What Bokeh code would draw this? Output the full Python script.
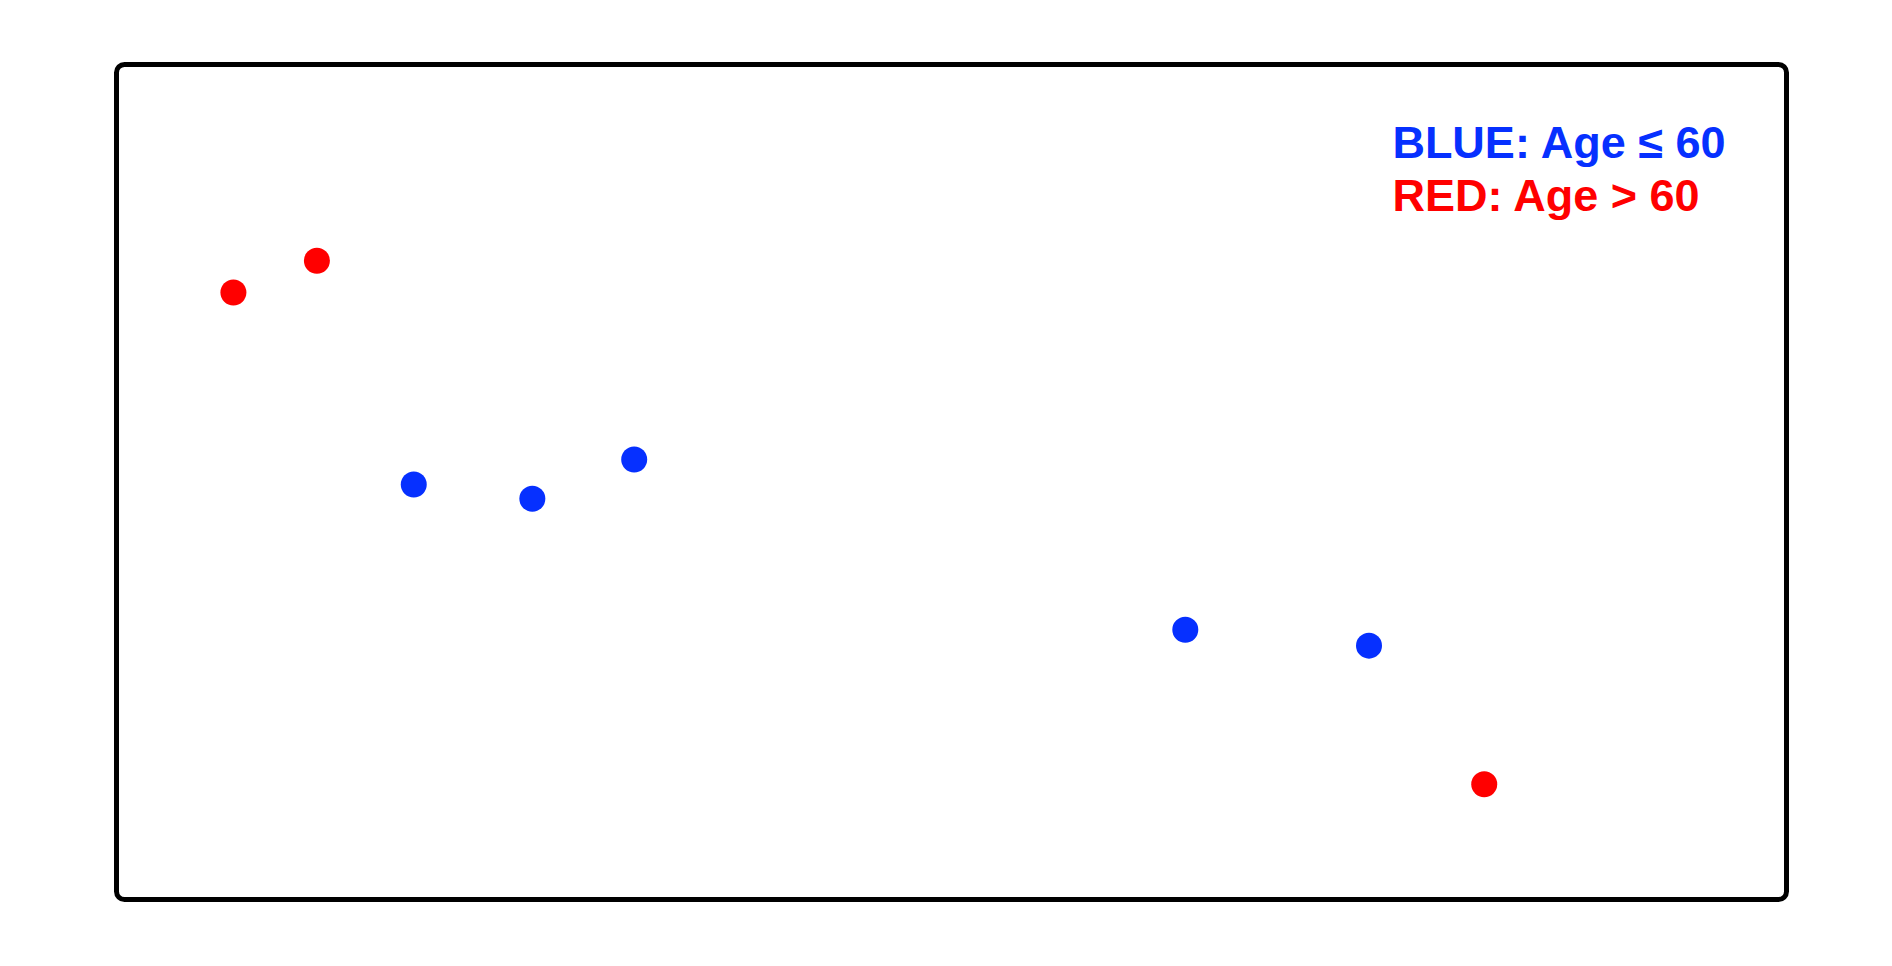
from bokeh.plotting import figure
from bokeh.models import ColumnDataSource, Range1d, Label, BoxAnnotation
from bokeh.embed import file_html
from bokeh.resources import INLINE

# Data (arbitrary units)
x_vals = [0.70, 1.20, 1.78, 2.49, 3.10, 6.40, 7.50, 8.19]
y_vals = [7.27, 7.65, 4.97, 4.80, 5.27, 3.23, 3.04, 1.38]
ages_over_60 = [True, True, False, False, False, False, False, True]
legend_lines = ["BLUE: Age \u2264 60", "RED: Age > 60"]

BLUE = "#0630ff"
RED = "#ff0000"
colors = [RED if a else BLUE for a in ages_over_60]

src = ColumnDataSource(dict(x=x_vals, y=y_vals, c=colors))

PAD = 10  # px of frame beyond the drawn box
xpad = PAD / 167.0
ypad = PAD / 83.5

p = figure(width=1892, height=966, output_backend="svg", toolbar_location=None,
           x_range=Range1d(-xpad, 10 + xpad), y_range=Range1d(-ypad, 10 + ypad),
           min_border_left=116 - PAD, min_border_right=106 - PAD,
           min_border_top=64 - PAD, min_border_bottom=67 - PAD)
p.axis.visible = False
p.grid.visible = False
p.outline_line_color = None
p.background_fill_color = "white"
p.border_fill_color = "white"

p.add_layout(BoxAnnotation(left=0, right=10, bottom=0, top=10, fill_alpha=0,
                           line_color="black", line_alpha=1.0, line_width=5,
                           border_radius=8))

p.scatter("x", "y", source=src, size=26, fill_color="c", line_color=None)

ys = [9.07, 8.43]
cols = [BLUE, RED]
for t, yy, c in zip(legend_lines, ys, cols):
    p.add_layout(Label(x=7.64, y=yy, text=t, text_color=c, text_font="Liberation Sans",
                       text_font_style="bold", text_font_size="45px",
                       text_baseline="alphabetic"))

open("out.html", "w").write(file_html(p, INLINE))
